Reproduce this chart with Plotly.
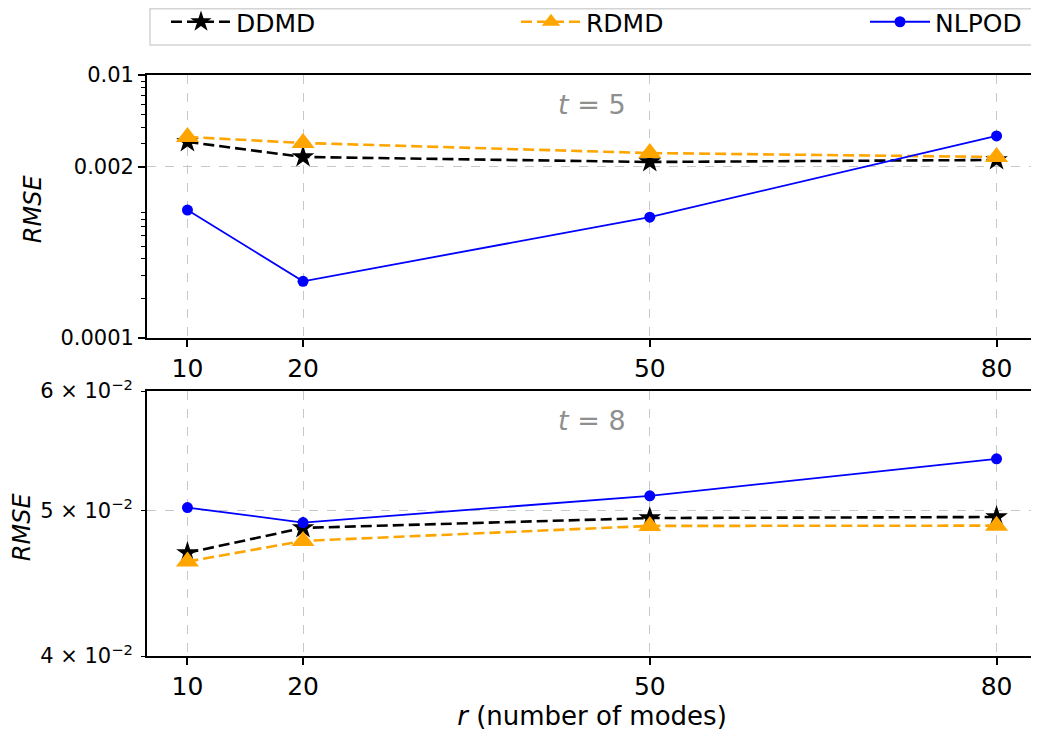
import plotly.graph_objects as go

modes = [10, 20, 50, 80]

# t = 5
ddmd_t5 = [0.00310, 0.00238, 0.00218, 0.00226]
rdmd_t5 = [0.00338, 0.00304, 0.00255, 0.00238]
nlpod_t5 = [0.00094, 0.00027, 0.00083, 0.00344]

# t = 8
ddmd_t8 = [0.04684, 0.04866, 0.04940, 0.04948]
rdmd_t8 = [0.04622, 0.04770, 0.04881, 0.04883]
nlpod_t8 = [0.05020, 0.04906, 0.05111, 0.05409]

top_ticks = [0.0001, 0.002, 0.01]
top_ticktext = ["0.0001", "0.002", "0.01"]
top_minor = [2e-4, 3e-4, 4e-4, 5e-4, 6e-4, 7e-4, 8e-4, 9e-4,
             3e-3, 4e-3, 5e-3, 6e-3, 7e-3, 8e-3, 9e-3]
bot_ticks = [0.04, 0.05, 0.06]
bot_ticktext = ["4 × 10<sup>−2</sup>", "5 × 10<sup>−2</sup>", "6 × 10<sup>−2</sup>"]

FONT = "DejaVu Sans"
# page has an 8px body margin, so the figure is offset by 8px
W, H = 1031, 731
ML, MR, MT, MB = 139, 2, 67, 83
plot_w = W - ML - MR
plot_h = H - MT - MB
top_dom = [(H - MB - 330) / plot_h, 1.0]
bot_dom = [0.0, (H - MB - 383) / plot_h]


def px_x(x):
    return (x - ML) / plot_w


def px_y(y):
    return (H - MB - y) / plot_h


fig = go.Figure()

styles = [
    ("DDMD", "black", "11px,5px", 2.6, "star", 17, "legend"),
    ("RDMD", "orange", "11px,5px", 2.6, "triangle-up", 20, "legend2"),
    ("NLPOD", "blue", "solid", 1.8, "circle", 11, "legend3"),
]
top_data = [ddmd_t5, rdmd_t5, nlpod_t5]
bot_data = [ddmd_t8, rdmd_t8, nlpod_t8]

for (name, col, dash, lw, sym, ms, lg), yv in zip(styles, top_data):
    fig.add_trace(go.Scatter(x=modes, y=yv, name=name, mode="lines+markers",
                             line=dict(color=col, dash=dash, width=lw),
                             marker=dict(symbol=sym, size=ms, color=col),
                             xaxis="x", yaxis="y", showlegend=True, legend=lg))
for (name, col, dash, lw, sym, ms, lg), yv in zip(styles, bot_data):
    fig.add_trace(go.Scatter(x=modes, y=yv, name=name, mode="lines+markers",
                             line=dict(color=col, dash=dash, width=lw),
                             marker=dict(symbol=sym, size=ms, color=col),
                             xaxis="x2", yaxis="y2", showlegend=False))

xcommon = dict(range=[6.5, 83.5], tickvals=modes, ticks="outside", ticklen=7,
               tickwidth=1.5, tickcolor="black", showline=True, linecolor="black",
               linewidth=1.8, mirror=True, showgrid=True, gridcolor="#c8c8c8",
               griddash="dash", gridwidth=1, zeroline=False,
               tickfont=dict(family=FONT, size=25, color="black"))

legend_common = dict(orientation="h", xanchor="left", yanchor="middle",
                     y=px_y(14), bgcolor="rgba(0,0,0,0)", borderwidth=0,
                     font=dict(family=FONT, size=25, color="black"),
                     itemwidth=60)

fig.update_layout(
    width=W, height=H,
    margin=dict(l=ML, r=MR, t=MT, b=MB, autoexpand=False),
    paper_bgcolor="white", plot_bgcolor="white",
    font=dict(family=FONT, size=20, color="black"),
    xaxis=dict(domain=[0, 1], anchor="y", **xcommon),
    xaxis2=dict(domain=[0, 1], anchor="y2",
                title=dict(text="<i>r</i> (number of modes)", standoff=2,
                           font=dict(family=FONT, size=26)),
                **xcommon),
    yaxis=dict(domain=top_dom, anchor="x", type="log", range=[-4, -2],
               tickvals=top_ticks, ticktext=top_ticktext, ticks="outside",
               ticklen=7, tickwidth=1.5, tickcolor="black",
               minor=dict(tickvals=top_minor, ticks="outside", ticklen=4,
                          tickwidth=1.2, tickcolor="black", showgrid=False),
               showline=True, linecolor="black", linewidth=1.8, mirror=True,
               showgrid=True, gridcolor="#c8c8c8", griddash="dash", gridwidth=1,
               zeroline=False, tickfont=dict(family=FONT, size=21, color="black")),
    yaxis2=dict(domain=bot_dom, anchor="x2", type="log",
                range=[-1.39794, -1.22185],
                tickvals=bot_ticks, ticktext=bot_ticktext, ticks="outside",
                ticklen=4, tickwidth=1.2, tickcolor="black", ticklabelstandoff=4,
                showline=True, linecolor="black", linewidth=1.8, mirror=True,
                showgrid=True, gridcolor="#c8c8c8", griddash="dash", gridwidth=1,
                zeroline=False, tickfont=dict(family=FONT, size=21, color="black")),
    legend=dict(x=px_x(158), **legend_common),
    legend2=dict(x=px_x(508), **legend_common),
    legend3=dict(x=px_x(857), **legend_common),
    shapes=[
        dict(type="rect", xref="paper", yref="paper",
             x0=px_x(142), x1=px_x(1027), y0=px_y(37), y1=px_y(0.8),
             line=dict(color="#d4d4d4", width=1.5), fillcolor="white", layer="below"),
    ],
    annotations=[
        dict(text="<i>t</i> = 5", xref="x domain", yref="y domain", x=0.5, y=0.955,
             xanchor="center", yanchor="top", showarrow=False,
             font=dict(family=FONT, size=27, color="#8f8f8f")),
        dict(text="<i>t</i> = 8", xref="x2 domain", yref="y2 domain", x=0.5, y=0.955,
             xanchor="center", yanchor="top", showarrow=False,
             font=dict(family=FONT, size=27, color="#8f8f8f")),
        dict(text="<i>RMSE</i>", xref="paper", yref="y domain", x=px_x(25),
             y=0.49, xanchor="center", yanchor="middle", textangle=-90, showarrow=False,
             font=dict(family=FONT, size=24, color="black")),
        dict(text="<i>RMSE</i>", xref="paper", yref="y2 domain", x=px_x(14),
             y=0.49, xanchor="center", yanchor="middle", textangle=-90, showarrow=False,
             font=dict(family=FONT, size=24, color="black")),
    ],
)

fig.write_html("out.html")
